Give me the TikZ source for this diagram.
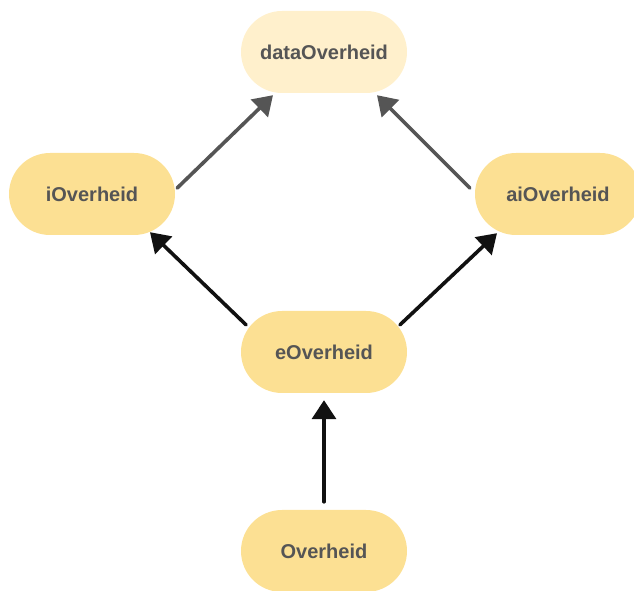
\documentclass[tikz,border=0pt]{standalone}
\usepackage{fontspec}
\setmainfont{Liberation Sans}
\usetikzlibrary{arrows.meta}
\definecolor{pill}{HTML}{FCE093}
\definecolor{pilllight}{HTML}{FFF0CC}
\definecolor{labeltext}{HTML}{555555}
\definecolor{greyline}{HTML}{555555}
\definecolor{darkline}{HTML}{111111}
\begin{document}
\begin{tikzpicture}[x=1pt,y=1pt,
  pillbox/.style={draw=none,fill=pill,rounded corners=41pt,minimum width=166pt,minimum height=82pt,
    text=labeltext,font=\fontsize{20}{24}\selectfont\bfseries,inner sep=0pt},
  arr/.style={line width=3.6pt,line cap=round,-{Triangle[width=24pt,length=19pt]}},
  greyarr/.style={arr,draw=greyline,fill=greyline},
  darkarr/.style={arr,draw=darkline,fill=darkline}]
\useasboundingbox (0,0) rectangle (634,591);
\begin{scope}
\clip (0,0) rectangle (634,591);
\node[pillbox,fill=pilllight] (dO) at (324,539) {dataOverheid};
\node[pillbox] (iO) at (92,397) {iOverheid};
\node[pillbox] (aiO) at (558,397) {aiOverheid};
\node[pillbox] (eO) at (324,239) {eOverheid};
\node[pillbox] (O) at (324,40) {Overheid};
\end{scope}
% specialisation arrows
\draw[greyarr] ([shift={(2,6)}]iO.east) -- ([shift={(-51,-2)}]dO.south);
\draw[greyarr] ([shift={(-5,6)}]aiO.west) -- ([shift={(53,-2)}]dO.south);
\draw[darkarr] ([shift={(-78,-14)}]eO.north) -- ([shift={(58,3)}]iO.south);
\draw[darkarr] ([shift={(76,-14)}]eO.north) -- ([shift={(-61,2)}]aiO.south);
\draw[darkarr] ([shift={(0,8)}]O.north) -- ([shift={(0,-7)}]eO.south);
\end{tikzpicture}
\end{document}
